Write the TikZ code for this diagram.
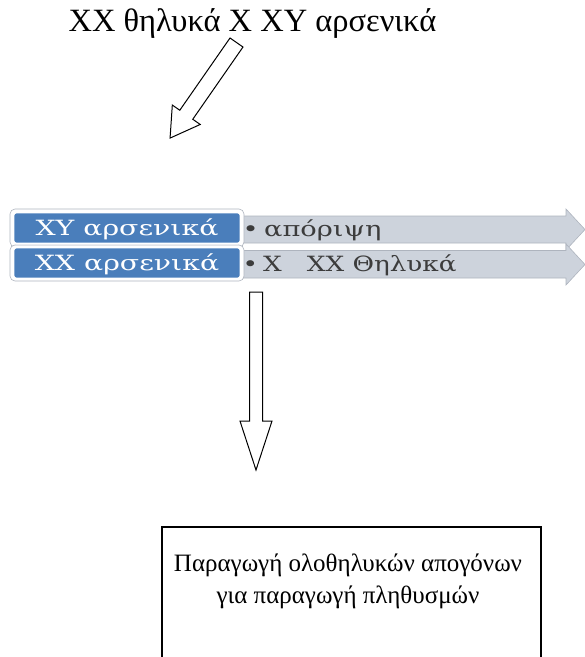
\documentclass[tikz,border=0pt]{standalone}
\usepackage{fontspec}
\setmainfont{Liberation Serif}
\newfontfamily\barfont{DejaVu Serif}
\definecolor{barblue}{HTML}{4A7EBB}
\definecolor{arrowgrey}{HTML}{CDD3DC}
\definecolor{arrowedge}{HTML}{AEB4BE}
\definecolor{greytext}{HTML}{3C3C3C}
\tikzset{
  blockarrow/.style={draw=black, line width=1pt, fill=white, line join=miter},
  labelbar/.style={draw=white, line width=1.6pt, fill=barblue, rounded corners=3pt},
  labelframe/.style={draw=arrowedge, line width=0.6pt, fill=white, rounded corners=5pt},
  greyarrow/.style={draw=arrowedge, line width=0.6pt, fill=arrowgrey},
  bartext/.style={text=white, font=\barfont\fontsize{21}{23}\selectfont, anchor=center},
  itemtext/.style={text=greytext, font=\barfont\fontsize{21}{23}\selectfont, anchor=west},
  headtext/.style={font=\fontsize{32.5}{38}\selectfont},
  bigtext/.style={font=\fontsize{25}{32}\selectfont}
}
\begin{document}
\begin{tikzpicture}[x=1pt,y=-1pt]
\useasboundingbox (0,0) rectangle (585,657);

% heading
\node[headtext, anchor=base] (cross) at (252.5,31) {XX θηλυκά X XY αρσενικά};

% slanted hollow arrow from the heading down to the rows
\begin{scope}[shift={(236.5,42.5)}, rotate=235.2]
  \draw[blockarrow] (0,-7.9) -- (88,-7.9) -- (88,-17) -- (116.4,0)
        -- (88,17) -- (88,7.9) -- (0,7.9) -- cycle;
  \coordinate (slanttip) at (116.4,0);
\end{scope}

% grey chevron rows
\draw[greyarrow] (236,216) -- (566,216) -- (566,209) -- (585,229.5)
      -- (566,250) -- (566,243) -- (236,243) -- cycle;
\draw[greyarrow] (236,250.5) -- (566,250.5) -- (566,244) -- (585,264.5)
      -- (566,285) -- (566,278) -- (236,278) -- cycle;

% blue label bars with their light frames
\draw[labelframe] (10,209) rectangle (244,247);
\draw[labelframe] (10,245) rectangle (244,281);
\node[labelbar, minimum width=227pt, minimum height=31pt, inner sep=0pt]
  (rowa) at (127,228) {};
\node[labelbar, minimum width=227pt, minimum height=31pt, inner sep=0pt]
  (rowb) at (127,263) {};
\node[bartext] (rowalabel) at (127,229) {\scalebox{1.35}[1]{XY αρσενικά}};
\node[bartext] (rowblabel) at (127,264) {\scalebox{1.35}[1]{XX αρσενικά}};

% row contents
\node[itemtext] (itema) at (239,230) {\scalebox{1.3}[1]{•\hspace{0.2em}απόριψη}};
\node[itemtext] (itemb) at (239,265) {\scalebox{1.25}[1]{•\hspace{0.2em}X\hspace{0.95em}XX Θηλυκά}};

% vertical hollow arrow
\draw[blockarrow] (249.5,292) -- (262.5,292) -- (262.5,421) -- (272,421)
      -- (256,470) -- (240,421) -- (249.5,421) -- cycle;
\coordinate (downtip) at (256,470);

% result box, open at the bottom edge of the page
\draw[line width=1.3pt] (162,660) -- (162,527) -- (541,527) -- (541,660);
\node[bigtext, align=center, anchor=north] (result) at (348,550)
  {Παραγωγή ολοθηλυκών απογόνων\\για παραγωγή πληθυσμών};
\end{tikzpicture}
\end{document}
